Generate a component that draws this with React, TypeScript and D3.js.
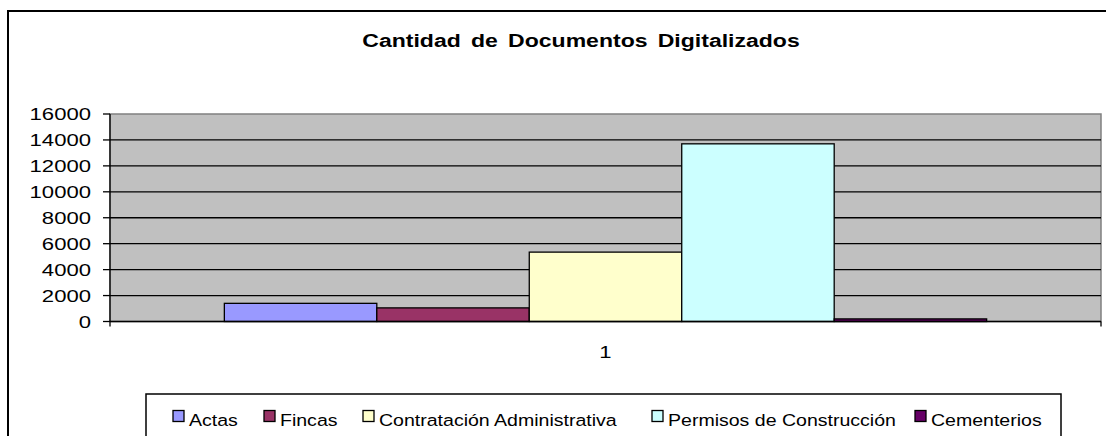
import React from "react";
import * as d3 from "d3";

const categories = ["1"];
const seriesNames = ["Actas", "Fincas", "Contratación Administrativa", "Permisos de Construcción", "Cementerios"];
const seriesValues = [1400, 1050, 5350, 13700, 200];
const seriesColors = ["#9999FF", "#993366", "#FFFFCC", "#CCFFFF", "#660066"];
const yTicks = [0, 2000, 4000, 6000, 8000, 10000, 12000, 14000, 16000];
const legendX = [173, 264, 363, 652, 915];

function SText({ x, y, sx = 1.25, anchor = "start", children, ...rest }: any) {
  return (
    <text transform={`translate(${x},${y}) scale(${sx},1)`} textAnchor={anchor} {...rest}>
      {children}
    </text>
  );
}

export default function App() {
  const W = 1106, H = 436;
  const left = 110, right = 1101, top = 114, bottom = 321.5;
  const y = d3.scaleLinear().domain([0, 16000]).range([bottom, top]);
  const x0 = d3.scaleBand().domain(categories).range([left, right]).paddingInner(0).paddingOuter(0.15);
  const x1 = d3.scaleBand().domain(seriesNames).range([0, x0.bandwidth()]).padding(0);
  const font = "Arial, 'Liberation Sans', sans-serif";
  return (
    <svg width={W} height={H} style={{ position: "absolute", left: 0, top: 0, background: "#fff" }} fontFamily={font}>
      <rect x={8} y={11} width={1200} height={600} fill="#fff" stroke="#000" strokeWidth={2} />
      <SText x={581} y={47} sx={1.28} anchor="middle" fontWeight="bold" fontSize={18} wordSpacing={3}>
        Cantidad de Documentos Digitalizados
      </SText>
      <rect x={left} y={top} width={right - left} height={bottom - top} fill="#C0C0C0" stroke="#808080" strokeWidth={1.5} />
      {yTicks.filter(t => t > 0 && t < 16000).map(t => (
        <line key={t} x1={left} x2={right} y1={y(t)} y2={y(t)} stroke="#000" strokeWidth={1.3} />
      ))}
      {categories.map(c => (
        <g key={c}>
          {seriesNames.map((s, i) => (
            <rect key={s} x={(x0(c) as number) + (x1(s) as number)} y={y(seriesValues[i])}
              width={x1.bandwidth()} height={y(0) - y(seriesValues[i])}
              fill={seriesColors[i]} stroke="#000" strokeWidth={1.3} />
          ))}
          <SText x={(x0(c) as number) + x0.bandwidth() / 2} y={358} sx={1.3} anchor="middle" fontSize={17}>{c}</SText>
        </g>
      ))}
      <line x1={left} x2={left} y1={top} y2={bottom} stroke="#000" strokeWidth={1.3} />
      <line x1={left} x2={right} y1={bottom} y2={bottom} stroke="#000" strokeWidth={1.3} />
      <line x1={left} x2={left} y1={bottom} y2={bottom + 5} stroke="#000" strokeWidth={1.3} />
      <line x1={right} x2={right} y1={bottom} y2={bottom + 5} stroke="#000" strokeWidth={1.3} />
      {yTicks.map(t => (
        <g key={t}>
          <line x1={left - 7} x2={left} y1={y(t)} y2={y(t)} stroke="#000" strokeWidth={1.3} />
          <SText x={91} y={y(t) + 6} sx={1.3} anchor="end" fontSize={17}>{t}</SText>
        </g>
      ))}
      <rect x={146} y={394} width={915} height={80} fill="#fff" stroke="#000" strokeWidth={1.5} />
      {seriesNames.map((s, i) => (
        <g key={s}>
          <rect x={legendX[i]} y={410.5} width={11} height={11} fill={seriesColors[i]} stroke="#000" strokeWidth={1.3} />
          <SText x={legendX[i] + 16} y={425.5} sx={1.15} fontSize={17}>{s}</SText>
        </g>
      ))}
    </svg>
  );
}
